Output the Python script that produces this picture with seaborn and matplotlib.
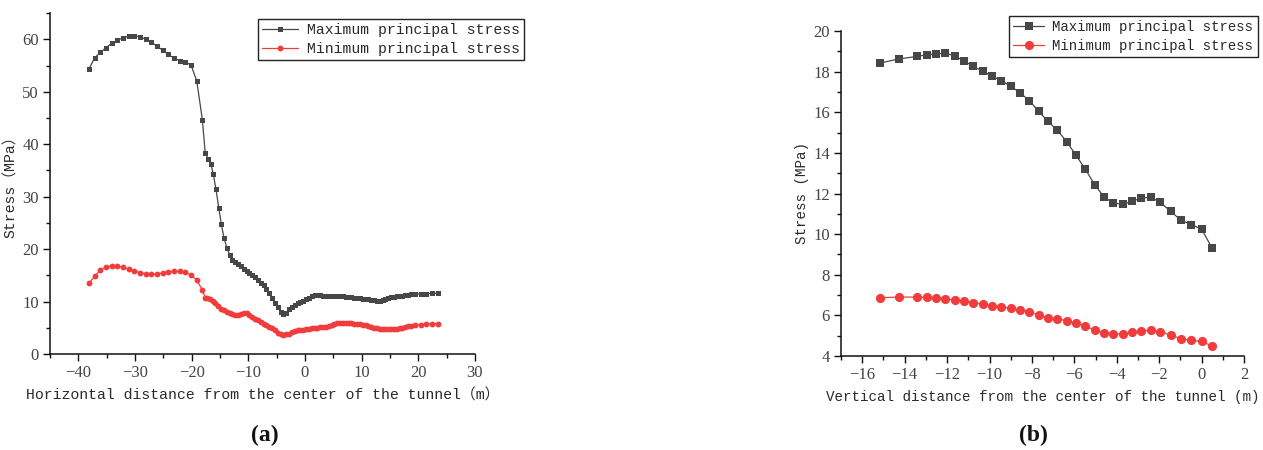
import numpy as np
import pandas as pd
import matplotlib
matplotlib.use("Agg")
import matplotlib.pyplot as plt
from matplotlib.ticker import MultipleLocator
import seaborn as sns

# ---------------- data: panel (a) ----------------
a_max_x = [-38.1, -37.1, -36.1, -35.1, -34.1, -33.1, -32.1, -31.1, -30.1, -29.1,
           -28.1, -27.1, -26.1, -25.1, -24.1, -23.1, -22.1, -21.1, -20.1, -19.1,
           -18.1, -17.6, -17.1, -16.6, -16.2, -15.7, -15.2, -14.75, -14.3, -13.8,
           -13.3,
           -12.8, -12.3, -11.8, -11.3, -10.8, -10.3, -9.8, -9.3, -8.8, -8.3,
           -7.8, -7.3, -6.8, -6.3, -5.8, -5.3, -4.8, -4.3, -3.8, -3.3,
           -2.8, -2.3, -1.8, -1.3, -0.8, -0.3, 0.2, 0.7, 1.2, 1.7,
           2.2, 2.7, 3.2, 3.7, 4.2, 4.7, 5.2, 5.7, 6.2, 6.7,
           7.2, 7.7, 8.2, 8.7, 9.2, 9.7, 10.2, 10.7, 11.2, 11.7,
           12.2, 12.7, 13.2, 13.7, 14.2, 14.7, 15.2, 15.7, 16.2, 16.7,
           17.2, 17.7, 18.2, 18.7,
           19.4, 20.4, 21.4, 22.4, 23.5]
a_max_y = [54.4, 56.5, 57.5, 58.4, 59.25, 59.8, 60.3, 60.6, 60.7, 60.45,
           60.0, 59.4, 58.7, 57.9, 57.1, 56.4, 55.9, 55.7, 55.05, 52.1,
           44.6, 38.3, 37.2, 36.3, 34.4, 31.4, 27.8, 24.7, 22.2, 20.3,
           18.9,
           18.0, 17.5, 17.1, 16.7, 16.3, 15.9, 15.5, 15.1, 14.6, 14.1,
           13.6, 13.1, 12.4, 11.6, 10.7, 9.8, 8.9, 8.0, 7.7, 7.9,
           8.5, 9.0, 9.4, 9.7, 9.9, 10.2, 10.4, 10.7, 11.0, 11.2,
           11.3, 11.2, 11.1, 11.0, 11.0, 11.05, 11.1, 11.1, 11.05, 11.0,
           10.9, 10.85, 10.8, 10.7, 10.65, 10.6, 10.5, 10.45, 10.4, 10.35,
           10.25, 10.2, 10.2, 10.3, 10.5, 10.7, 10.85, 10.95, 11.0, 11.1,
           11.15, 11.2, 11.3, 11.35,
           11.4, 11.45, 11.5, 11.55, 11.6]

a_min_x = [-38.1, -37.1, -36.1, -35.1, -34.1, -33.1, -32.1, -31.1, -30.1, -29.1,
           -28.1, -27.1, -26.1, -25.1, -24.1, -23.1, -22.1, -21.1, -20.1, -19.1,
           -18.1, -17.6,
           -17.3, -16.8, -16.3, -15.8, -15.3, -14.8, -14.3, -13.8, -13.3,
           -12.8, -12.3, -11.8, -11.3, -10.8, -10.3, -9.8, -9.3, -8.8, -8.3,
           -7.8, -7.3, -6.8, -6.3, -5.8, -5.3, -4.8, -4.3, -3.8, -3.3,
           -2.8, -2.3, -1.8, -1.3, -0.8, -0.3, 0.2, 0.7, 1.2, 1.7,
           2.2, 2.7, 3.2, 3.7, 4.2, 4.7, 5.2, 5.7, 6.2, 6.7,
           7.2, 7.7, 8.2, 8.7, 9.2, 9.7, 10.2, 10.7, 11.2, 11.7,
           12.2, 12.7, 13.2, 13.7, 14.2, 14.7, 15.2, 15.7, 16.2, 16.7,
           17.2, 17.7, 18.2, 18.7,
           19.4, 20.4, 21.4, 22.4, 23.5]
a_min_y = [13.5, 14.9, 15.95, 16.6, 16.8, 16.7, 16.5, 16.15, 15.8, 15.5,
           15.3, 15.25, 15.3, 15.45, 15.6, 15.75, 15.75, 15.6, 15.05, 14.1,
           12.2, 10.7,
           10.6, 10.5, 10.2, 9.8, 9.2, 8.6, 8.3, 8.1, 7.9,
           7.6, 7.4, 7.5, 7.7, 7.8, 7.75, 7.5, 7.1, 6.7, 6.4,
           6.1, 5.8, 5.5, 5.2, 4.9, 4.5, 4.1, 3.8, 3.7, 3.75,
           3.9, 4.2, 4.4, 4.5, 4.55, 4.6, 4.7, 4.8, 4.9, 5.0,
           5.05, 5.1, 5.15, 5.2, 5.4, 5.6, 5.8, 5.9, 5.95, 6.0,
           5.95, 5.9, 5.85, 5.8, 5.75, 5.7, 5.6, 5.5, 5.35, 5.2,
           5.05, 4.95, 4.85, 4.8, 4.75, 4.75, 4.75, 4.75, 4.8, 4.9,
           5.0, 5.15, 5.3, 5.4,
           5.5, 5.6, 5.7, 5.75, 5.8]

# ---------------- data: panel (b) ----------------
b_x = [-15.18, -14.29, -13.41, -12.97, -12.53, -12.08, -11.64, -11.2, -10.76, -10.32,
       -9.88, -9.44, -9.0, -8.56, -8.12, -7.68, -7.24, -6.8, -6.36, -5.92,
       -5.48, -5.04, -4.6, -4.16, -3.72, -3.28, -2.84, -2.4, -1.96, -1.46,
       -0.97, -0.48, 0.0, 0.49]
b_max_y = [18.42, 18.62, 18.75, 18.83, 18.88, 18.9, 18.78, 18.52, 18.26, 18.01,
           17.78, 17.55, 17.28, 16.96, 16.57, 16.04, 15.55, 15.11, 14.55, 13.88,
           13.19, 12.43, 11.83, 11.52, 11.48, 11.61, 11.78, 11.81, 11.58, 11.12,
           10.68, 10.47, 10.24, 9.32]
b_min_y = [6.87, 6.9, 6.9, 6.89, 6.86, 6.81, 6.76, 6.69, 6.63, 6.54,
           6.48, 6.41, 6.35, 6.26, 6.17, 6.02, 5.89, 5.82, 5.74, 5.62,
           5.46, 5.28, 5.13, 5.07, 5.10, 5.17, 5.25, 5.26, 5.2, 5.03,
           4.85, 4.77, 4.72, 4.49]

series_labels = ["Maximum principal stress", "Minimum principal stress"]
a_xlabel = "Horizontal distance from the center of the tunnel（m）"
a_ylabel = "Stress（MPa）"
b_xlabel = "Vertical distance from the center of the tunnel (m)"
b_ylabel = "Stress (MPa)"
panel_tags = ["(a)", "(b)"]

# ---------------- style ----------------
sns.set_theme(style="ticks")
plt.rcParams["font.family"] = ["Liberation Mono", "Noto Sans CJK SC", "DejaVu Sans"]
plt.rcParams["axes.unicode_minus"] = True

MAX_C = "#474747"
MIN_C = "#f03c3c"
TXT_C = "#2a2a2a"
TICK_FONT = ["Liberation Serif", "DejaVu Serif"]

fig = plt.figure(figsize=(12.63, 4.5), dpi=100)
ax_a = fig.add_axes([0.0396, 0.2133, 0.3364, 0.7577])
ax_b = fig.add_axes([0.6659, 0.2089, 0.3191, 0.7222])

df_a_max = pd.DataFrame({"x": a_max_x, "y": a_max_y})
df_a_min = pd.DataFrame({"x": a_min_x, "y": a_min_y})
df_b = pd.DataFrame({"x": b_x, "ymax": b_max_y, "ymin": b_min_y})

sns.lineplot(data=df_a_max, x="x", y="y", ax=ax_a, color=MAX_C, lw=0.9,
             marker="s", markersize=3.6, markeredgewidth=0, sort=False,
             estimator=None, label=series_labels[0])
sns.lineplot(data=df_a_min, x="x", y="y", ax=ax_a, color=MIN_C, lw=0.9,
             marker="o", markersize=4.2, markeredgewidth=0, sort=False,
             estimator=None, label=series_labels[1])

sns.lineplot(data=df_b, x="x", y="ymax", ax=ax_b, color=MAX_C, lw=0.9,
             marker="s", markersize=6.0, markeredgewidth=0, sort=False,
             estimator=None, label=series_labels[0])
sns.lineplot(data=df_b, x="x", y="ymin", ax=ax_b, color=MIN_C, lw=0.9,
             marker="o", markersize=6.6, markeredgewidth=0, sort=False,
             estimator=None, label=series_labels[1])

def style_axes(ax, xlim, ylim, xmaj, xmin, ymaj, ymin, xlabel, ylabel, fs):
    ax.set_xlim(*xlim)
    ax.set_ylim(*ylim)
    ax.xaxis.set_major_locator(MultipleLocator(xmaj))
    ax.xaxis.set_minor_locator(MultipleLocator(xmin))
    ax.yaxis.set_major_locator(MultipleLocator(ymaj))
    ax.yaxis.set_minor_locator(MultipleLocator(ymin))
    for s in ["top", "right"]:
        ax.spines[s].set_visible(False)
    for s in ["left", "bottom"]:
        ax.spines[s].set_color("#111111")
        ax.spines[s].set_linewidth(1.1)
    ax.tick_params(which="major", direction="out", length=5, width=1.0,
                   color="#111111", labelcolor="#444444", labelsize=12, pad=3)
    ax.tick_params(which="minor", direction="out", length=3, width=1.0,
                   color="#111111")
    for lab in ax.get_xticklabels() + ax.get_yticklabels():
        lab.set_fontfamily(TICK_FONT)
    ax.set_xlabel(xlabel, fontsize=fs, color=TXT_C, labelpad=5)
    ax.set_ylabel(ylabel, fontsize=fs, color=TXT_C, labelpad=3)
    ax.grid(False)

style_axes(ax_a, (-45, 30), (0, 65), 10, 5, 10, 5, a_xlabel, a_ylabel, 10.7)
style_axes(ax_b, (-17, 2), (4, 20), 2, 1, 2, 1, b_xlabel, b_ylabel, 10.3)

def make_legend(ax, anchor, fs, hl):
    leg = ax.legend(loc="upper left", bbox_to_anchor=anchor,
                    bbox_transform=fig.transFigure, frameon=True,
                    fancybox=False, framealpha=1, edgecolor="#222222",
                    fontsize=fs, handlelength=hl, handletextpad=0.6,
                    labelspacing=0.3, borderpad=0.3, borderaxespad=0)
    leg.get_frame().set_linewidth(1.0)
    for t in leg.get_texts():
        t.set_color(TXT_C)
    return leg

make_legend(ax_a, (0.2043, 0.958), 10.6, 2.4)
make_legend(ax_b, (0.7989, 0.964), 10.1, 2.2)

fig.text(265 / 1263, 1 - 435 / 450, panel_tags[0], ha="center", va="center",
         fontsize=17, fontweight="bold", family=["Liberation Serif"], color="#111111")
fig.text(1033 / 1263, 1 - 435 / 450, panel_tags[1], ha="center", va="center",
         fontsize=17, fontweight="bold", family=["Liberation Serif"], color="#111111")

fig.savefig("out.png", dpi=100, facecolor="white")
